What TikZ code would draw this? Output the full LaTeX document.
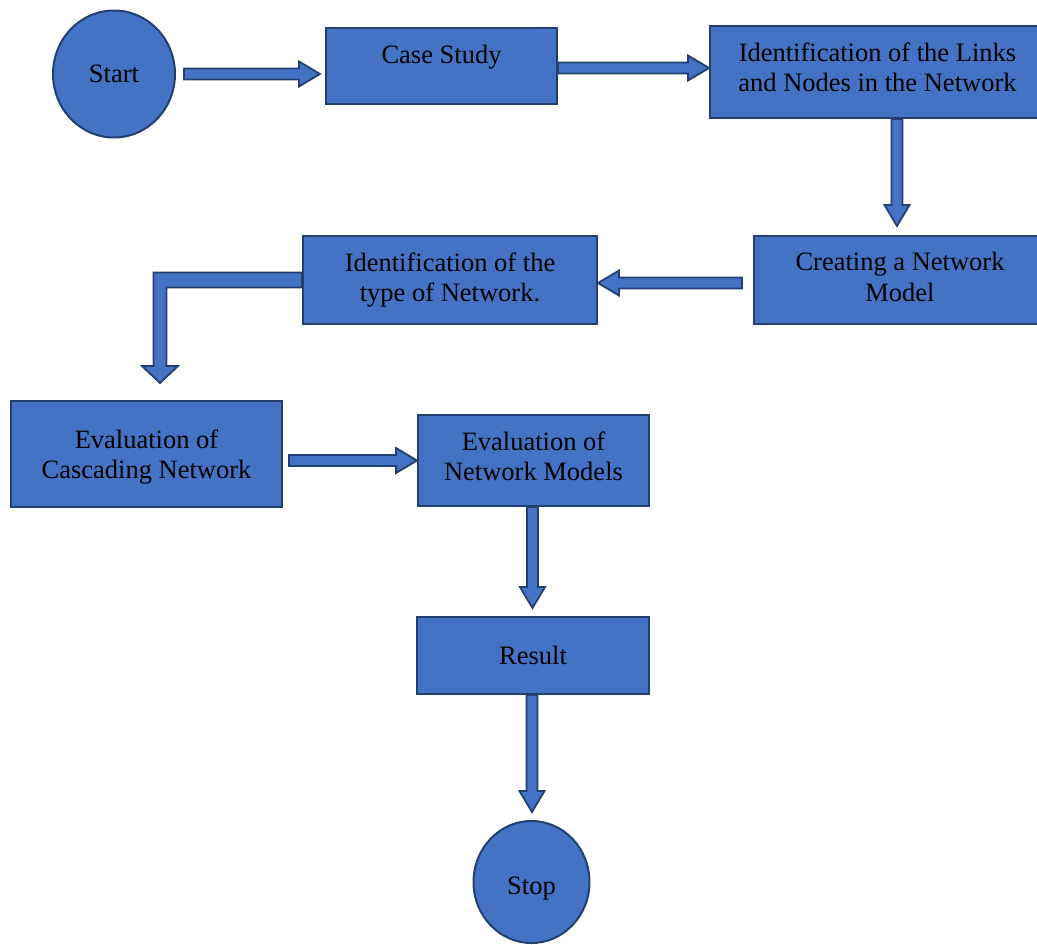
\documentclass[tikz,border=0pt]{standalone}
\usepackage{fontspec}
\setmainfont{Liberation Serif}
\usetikzlibrary{calc,shapes.geometric}

\definecolor{fillc}{HTML}{4472C4}
\definecolor{edgec}{HTML}{22406F}

% block-arrow geometry (half shaft width, half head width, head length)
\def\bash{5.5pt}
\def\bahw{12.5pt}
\def\bahl{21pt}

\tikzset{
  lbl/.style={font=\fontsize{26.5}{30.5}\selectfont, text=black, align=center},
  box/.style={lbl, rectangle, draw=edgec, fill=fillc, line width=2pt, inner sep=0pt},
  terminal/.style={lbl, ellipse, draw=edgec, fill=fillc, line width=2pt, inner sep=0pt},
  blk/.style={draw=edgec, fill=fillc, line width=1.8pt, line join=miter,
    to path={let \p1=(\tikztostart), \p2=(\tikztotarget), \p3=($(\p2)!\bahl!(\p1)$) in
      ($(\p1)!\bash!90:(\p2)$) -- ($(\p3)!\bash!-90:(\p1)$) -- ($(\p3)!\bahw!-90:(\p1)$)
      -- (\p2) -- ($(\p3)!\bahw!90:(\p1)$) -- ($(\p3)!\bash!90:(\p1)$)
      -- ($(\p1)!\bash!-90:(\p2)$) -- cycle}},
}

\begin{document}
\begin{tikzpicture}[x=1pt,y=1pt]
\clip (0,0) rectangle (1037,-945);

% flowchart steps
\node[terminal, minimum width=122, minimum height=127] (start) at (114,-74) {Start};
\node[box, minimum width=231, minimum height=76, text depth=24pt] (cs) at (441.5,-66) {Case Study};
\node[box, minimum width=335, minimum height=92, text depth=10pt] (id1) at (877.5,-72) {Identification of the Links\\and Nodes in the Network};
\node[box, minimum width=292, minimum height=88, text depth=6pt] (cm) at (900,-280) {Creating a Network\\Model};
\node[box, minimum width=294, minimum height=88] (id2) at (450,-280) {Identification of the\\type of Network.};
\node[box, minimum width=271, minimum height=106, text depth=0pt] (ev1) at (146.5,-454) {Evaluation of\\Cascading Network};
\node[box, minimum width=231, minimum height=91, text depth=9pt] (ev2) at (533.5,-460.5) {Evaluation of\\Network Models};
\node[box, minimum width=232, minimum height=77] (res) at (533,-655.5) {Result};
\node[terminal, minimum width=116, minimum height=122, text height=24pt, text depth=0pt] (stop) at (531.5,-882) {Stop};

% block arrows between the steps
\draw[blk] ($(start.east)+(8,0)$) to ($(start.east -| cs.west)+(-5,0)$);
\draw[blk] ($(cs.east)+(0,-2)$) to ($(cs.east -| id1.west)+(0,-2)$);
\draw[blk] ($(id1.south -| cm.north)+(-3,0)$) to ($(cm.north)+(-3,9)$);
\draw[blk] ($(cm.west)+(-11,-3)$) to ($(id2.east)+(0,-3)$);
\draw[blk] ($(ev1.east |- ev2.west)+(6,0)$) to (ev2.west);
\draw[blk] ($(ev2.south)+(-1,0)$) to ($(ev2.south |- res.north)+(-1,8)$);
\draw[blk] ($(res.south)+(-1,0)$) to ($(res.south |- stop.north)+(-1,8)$);

% elbow arrow from the network-type step down to the cascade evaluation
\coordinate (elb) at (160,-280);
\coordinate (elbtip) at (160,-383);
\draw[draw=edgec, fill=fillc, line width=1.8pt, line join=miter]
  let \p1=(id2.west), \p2=(elb), \p3=(elbtip) in
  (\x1,\y1+7.5pt) -- (\x2-6.5pt,\y1+7.5pt) -- (\x2-6.5pt,\y3+17pt) -- (\x2-18pt,\y3+17pt)
  -- (\p3) -- (\x2+18pt,\y3+17pt) -- (\x2+6.5pt,\y3+17pt) -- (\x2+6.5pt,\y1-7.5pt)
  -- (\x1,\y1-7.5pt) -- cycle;
\end{tikzpicture}
\end{document}
